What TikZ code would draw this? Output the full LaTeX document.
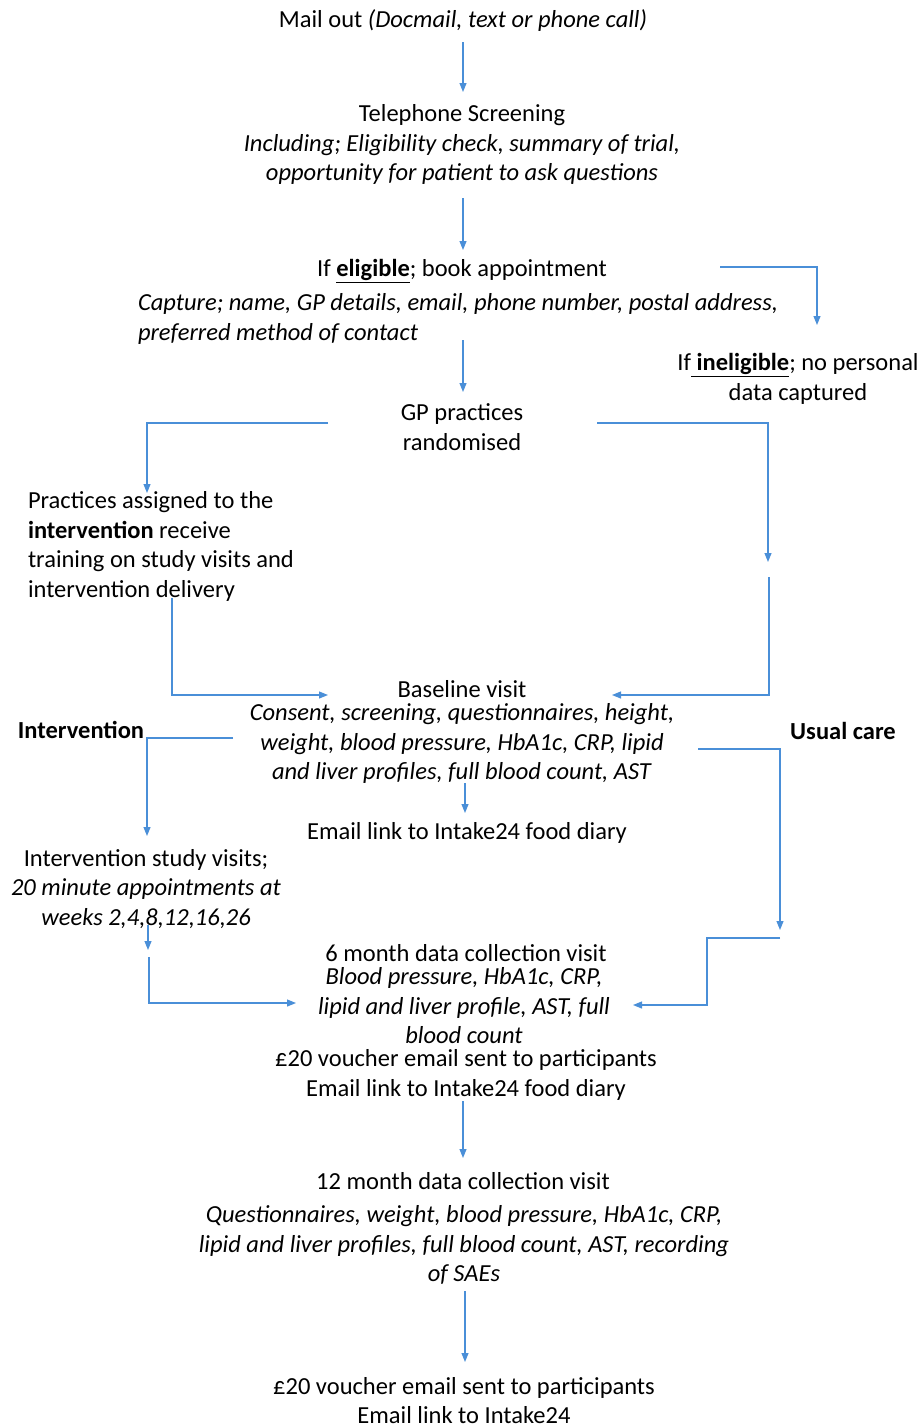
\documentclass[tikz,border=0pt]{standalone}
\usepackage{fontspec}
\setmainfont{Carlito}
\usetikzlibrary{arrows.meta,calc}
\definecolor{flow}{HTML}{4A8FD8}
\begin{document}
\begin{tikzpicture}[x=1pt,y=-1pt,
  every node/.style={inner sep=0pt,outer sep=0pt,font=\fontsize{24.5}{29.5}\selectfont},
  txt/.style={align=center},
  ltxt/.style={align=left},
  arr/.style={draw=flow,line width=1.1pt,-{Triangle[length=9pt,width=7pt]}},
  ln/.style={draw=flow,line width=1.1pt}]
\useasboundingbox (0,0) rectangle (921,1427);
\fill[white] (0,0) rectangle (921,1427);

\node[txt] (mail) at (463,21) {Mail out \textit{(Docmail, text or phone call)}};
\node[txt] (tel) at (462,144.5) {Telephone Screening\\\textit{Including; Eligibility check, summary of trial,}\\\textit{opportunity for patient to ask questions}};
\node[txt] (elig) at (462,271) {If \underline{\textbf{eligible}}; book appointment};
\node[ltxt,anchor=west] (capt) at (138,319) {\textit{Capture; name, GP details, email, phone number, postal address,}\\\textit{preferred method of contact}};
\node[txt] (inel) at (798,379) {If\underline{\textbf{\ ineligible}}; no personal\\data captured};
\node[txt] (gp) at (462,427) {GP practices\\randomised};
\node[ltxt,anchor=west] (prac) at (28,546.5) {Practices assigned to the\\\textbf{intervention} receive\\training on study visits and\\intervention delivery};
\node[txt] (base) at (462,689) {Baseline visit};
\node[txt] (basebody) at (462,743.5) {\textit{Consent, screening, questionnaires, height,}\\\textit{weight, blood pressure, HbA1c, CRP, lipid}\\\textit{and liver profiles, full blood count, AST}};
\node (intlab) at (81,730) {\textbf{Intervention}};
\node (uclab) at (843,731) {\textbf{Usual care}};
\node[txt] (mail1) at (467,833) {Email link to Intake24 food diary};
\node[txt] (isv) at (146,889) {Intervention study visits;\\\textit{20 minute appointments at}\\\textit{weeks 2,4,8,12,16,26}};
\node[txt] (six) at (466,953) {6 month data collection visit};
\node[txt] (sixbody) at (464,1006) {\textit{Blood pressure, HbA1c, CRP,}\\\textit{lipid and liver profile, AST, full}\\\textit{blood count}};
\node[txt] (sixfoot) at (466,1075) {£20 voucher email sent to participants\\Email link to Intake24 food diary};
\node[txt] (twelve) at (463,1181) {12 month data collection visit};
\node[txt] (twbody) at (464,1245) {\textit{Questionnaires, weight, blood pressure, HbA1c, CRP,}\\\textit{lipid and liver profiles, full blood count, AST, recording}\\\textit{of SAEs}};
\node[txt] (final) at (464,1400.5) {£20 voucher email sent to participants\\Email link to Intake24};

% connectors
\draw[arr] ($(mail.center)+(0,21)$) -- ($(tel.center)+(1,-52.5)$);
\draw[arr] ($(tel.center)+(1,53.5)$) -- ($(elig.center)+(1,-21)$);
\draw[arr] ($(elig.center)+(258,-4)$) -| ($(inel.center)+(19,-54)$);
\draw[arr] ($(capt.west)+(325,21)$) -- ($(gp.center)+(1,-35)$);
\draw[arr] ($(gp.center)+(-134,-4)$) -| ($(prac.west)+(119,-53.5)$);
\draw[arr] ($(gp.center)+(135,-4)$) -| ($(base.center)+(306,-127)$);
\draw[arr] ($(base.center)+(307,-112)$) |- ($(base.center)+(150,6)$);
\draw[arr] ($(prac.west)+(144,51.5)$) |- ($(base.center)+(-134,6)$);
\draw[arr] ($(basebody.center)+(-229,-5.5)$) -| ($(isv.center)+(1,-53)$);
\draw[arr] ($(basebody.center)+(236,5.5)$) -| ($(six.center)+(314,-23)$);
\draw[arr] ($(basebody.center)+(3,39.5)$) -- ($(mail1.center)+(-2,-20)$);
\draw[arr] ($(isv.center)+(2,36)$) -- ($(six.center)+(-318,-3)$);
\draw[arr] ($(six.center)+(-317,4)$) |- ($(sixbody.center)+(-168,-3)$);
\draw[arr] ($(six.center)+(314,-15)$) -| ($(sixbody.center)+(243,-1)$) -- ($(sixbody.center)+(169,-1)$);
\draw[arr] ($(sixfoot.center)+(-3,26)$) -- ($(twelve.center)+(0,-23)$);
\draw[arr] ($(twbody.center)+(1,46)$) -- ($(final.center)+(1,-38.5)$);
\end{tikzpicture}
\end{document}
